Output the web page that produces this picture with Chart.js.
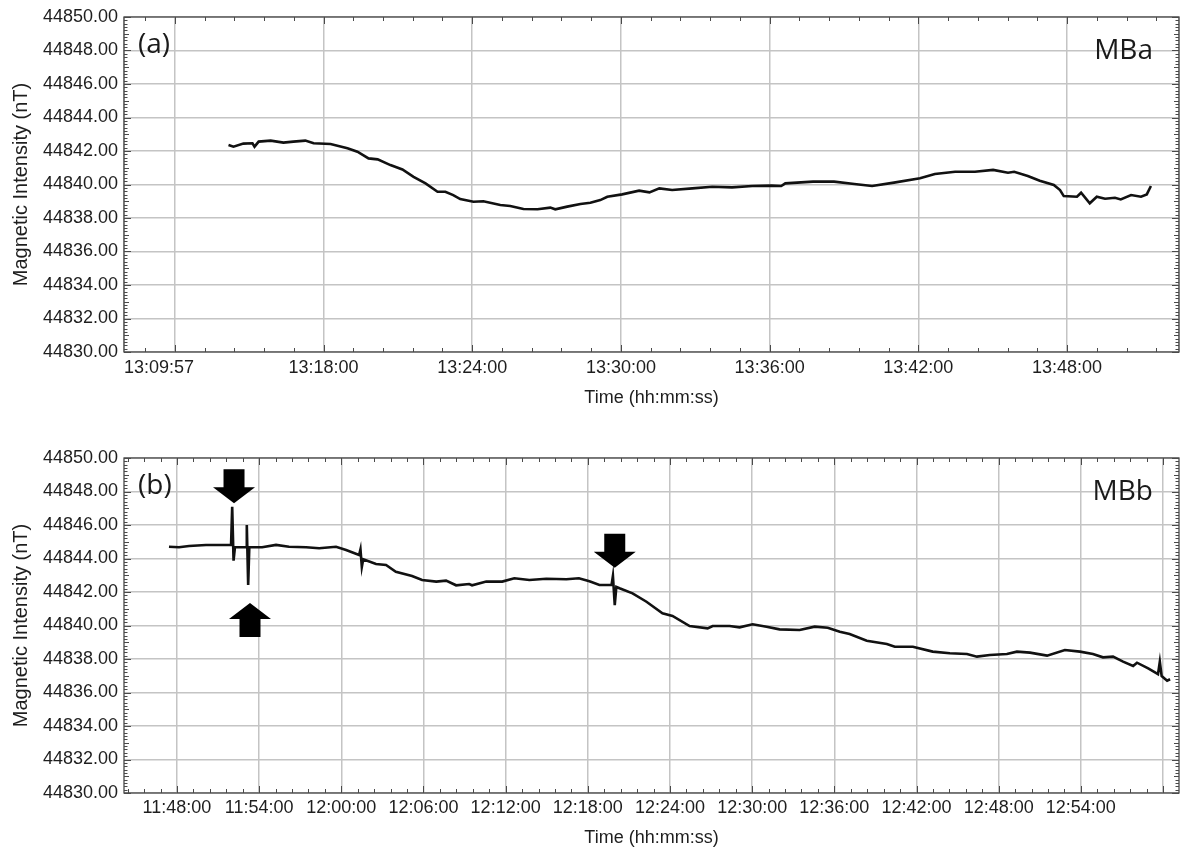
<!DOCTYPE html>
<html>
<head>
<meta charset="utf-8">
<script src="https://cdn.jsdelivr.net/npm/chart.js@4.4.1/dist/chart.umd.min.js"></script>
<style>
  body { margin: 0; background: #fff; }
  .panel { position: absolute; left: 0; width: 1185px; }
  #wrapA { top: 0; height: 425px; }
  #wrapB { top: 425px; height: 426px; }
</style>
</head>
<body>
<div class="panel" id="wrapA"><canvas id="chartA"></canvas></div>
<div class="panel" id="wrapB"><canvas id="chartB"></canvas></div>
<script>
// panel (a) - MBa
const timeA = ['13:14:10','13:14:22','13:14:46','13:15:08','13:15:13','13:15:23','13:15:52','13:16:23','13:16:47','13:17:16',
  '13:17:36','13:18:17','13:18:58','13:19:22','13:19:49','13:20:11','13:20:42','13:21:11','13:21:38','13:22:07',
  '13:22:36','13:22:55','13:23:14','13:23:31','13:24:03','13:24:27','13:25:08','13:25:32','13:26:04','13:26:38',
  '13:27:09','13:27:21','13:27:50','13:28:22','13:28:46','13:29:10','13:29:27','13:30:03','13:30:44','13:31:09',
  '13:31:33','13:32:04','13:32:53','13:33:41','13:34:29','13:35:18','13:36:04','13:36:28','13:36:38','13:37:45',
  '13:38:36','13:39:25','13:40:08','13:41:01','13:42:04','13:42:40','13:43:29','13:44:17','13:45:01','13:45:37',
  '13:45:52','13:46:25','13:46:54','13:47:28','13:47:43','13:47:52','13:48:24','13:48:34','13:48:55','13:49:12',
  '13:49:32','13:49:56','13:50:10','13:50:35','13:50:59','13:51:13','13:51:23'];
const valuesA = [44842.36,44842.26,44842.44,44842.46,44842.26,44842.56,44842.62,44842.50,44842.56,44842.62,
  44842.46,44842.42,44842.16,44841.96,44841.56,44841.50,44841.16,44840.90,44840.46,44840.07,
  44839.57,44839.57,44839.37,44839.13,44838.97,44839.00,44838.78,44838.72,44838.54,44838.52,
  44838.62,44838.52,44838.68,44838.84,44838.91,44839.07,44839.27,44839.41,44839.63,44839.53,
  44839.77,44839.67,44839.77,44839.87,44839.83,44839.91,44839.93,44839.91,44840.07,44840.17,
  44840.17,44840.03,44839.91,44840.11,44840.37,44840.63,44840.76,44840.76,44840.87,44840.70,
  44840.76,44840.51,44840.23,44839.97,44839.67,44839.31,44839.27,44839.51,44838.88,44839.27,
  44839.15,44839.21,44839.11,44839.37,44839.27,44839.41,44839.91];
const rangeA = ['13:09:57', '13:52:31'];
const ticksA = ['13:09:57','13:12:00','13:18:00','13:24:00','13:30:00','13:36:00','13:42:00','13:48:00','13:52:31'];
const tickLabelsA = ['13:09:57','','13:18:00','13:24:00','13:30:00','13:36:00','13:42:00','13:48:00',''];

// panel (b) - MBb
const timeB = ['11:47:25','11:48:09','11:48:53','11:50:07','11:51:04','11:51:57','11:52:02','11:52:08','11:52:14','11:53:03',
  '11:53:06','11:53:12','11:53:17','11:54:13','11:55:14','11:56:11','11:57:26','11:58:23','11:59:37','12:00:21',
  '12:01:18','12:01:24','12:01:30','12:01:36','12:02:32','12:03:16','12:03:59','12:05:10','12:05:54','12:06:56',
  '12:07:39','12:08:23','12:09:20','12:09:33','12:10:35','12:11:45','12:12:38','12:13:44','12:14:58','12:16:26',
  '12:17:21','12:18:07','12:18:51','12:19:44','12:19:50','12:19:58','12:20:05','12:20:19','12:21:16','12:22:17',
  '12:23:27','12:24:11','12:25:26','12:26:45','12:27:07','12:28:21','12:29:05','12:30:02','12:31:03','12:32:00',
  '12:33:28','12:34:34','12:35:31','12:36:24','12:37:07','12:38:22','12:39:50','12:40:25','12:41:44','12:43:11',
  '12:44:26','12:45:41','12:46:25','12:47:21','12:48:36','12:49:20','12:50:17','12:51:32','12:52:50','12:53:56',
  '12:54:53','12:55:37','12:56:21','12:57:05','12:57:49','12:58:06','12:58:55','12:59:38','12:59:46','12:59:54',
  '13:00:18','13:00:31'];
const valuesB = [44844.70,44844.67,44844.75,44844.81,44844.81,44844.81,44847.09,44843.87,44844.67,44844.67,
  44846.00,44842.42,44844.67,44844.67,44844.81,44844.70,44844.67,44844.61,44844.70,44844.51,
  44844.21,44844.55,44843.50,44843.95,44843.67,44843.61,44843.21,44842.96,44842.72,44842.62,
  44842.68,44842.40,44842.48,44842.40,44842.62,44842.62,44842.82,44842.72,44842.79,44842.76,
  44842.82,44842.64,44842.42,44842.42,44842.96,44841.22,44842.30,44842.22,44841.92,44841.42,
  44840.73,44840.57,44839.97,44839.83,44839.97,44839.97,44839.89,44840.07,44839.93,44839.77,
  44839.73,44839.93,44839.87,44839.63,44839.49,44839.09,44838.90,44838.73,44838.73,44838.44,
  44838.34,44838.30,44838.14,44838.24,44838.30,44838.44,44838.38,44838.20,44838.54,44838.44,
  44838.30,44838.10,44838.14,44837.84,44837.58,44837.78,44837.44,44837.10,44837.84,44836.98,
  44836.70,44836.79];
const rangeB = ['11:44:08', '13:01:10'];
const ticksB = ['11:48:00','11:54:00','12:00:00','12:06:00','12:12:00','12:18:00','12:24:00','12:30:00','12:36:00','12:42:00','12:48:00','12:54:00','13:00:00'];
const tickLabelsB = ['11:48:00','11:54:00','12:00:00','12:06:00','12:12:00','12:18:00','12:24:00','12:30:00','12:36:00','12:42:00','12:48:00','12:54:00',''];

// arrows marking the spikes in (b)
const arrowTimesB = ['11:52:10', '11:53:20', '12:19:58'];
const arrowValuesB = [44847.3, 44841.35, 44843.45];
const arrowDirsB = ['down', 'up', 'down'];

const yMin = 44830, yMax = 44850;

const sec = s => { const p = s.split(':').map(Number); return p[0] * 3600 + p[1] * 60 + p[2]; };

Chart.defaults.font.family = "'Liberation Sans', Arial, sans-serif";
Chart.defaults.color = '#1e1e1e';

function drawArrow(ctx, x, y, dir) {
  const s = dir === 'down' ? -1 : 1;
  ctx.beginPath();
  ctx.moveTo(x, y);
  ctx.lineTo(x - 21, y + s * 16);
  ctx.lineTo(x - 10.5, y + s * 16);
  ctx.lineTo(x - 10.5, y + s * 34);
  ctx.lineTo(x + 10.5, y + s * 34);
  ctx.lineTo(x + 10.5, y + s * 16);
  ctx.lineTo(x + 21, y + s * 16);
  ctx.closePath();
  ctx.fill();
}

// frame, inner minor ticks, arrows and panel labels
const framePlugin = {
  id: 'frame',
  afterDatasetsDraw(chart, args, o) {
    const { ctx, chartArea: { left, right, top, bottom } } = chart;
    const xs = chart.scales.x, ys = chart.scales.y;
    ctx.save();
    ctx.strokeStyle = '#4a4a4a';
    ctx.lineWidth = 1.3;
    ctx.strokeRect(left, top, right - left, bottom - top);

    ctx.lineWidth = 1;
    let v = o.origin;
    while (v - o.minorX >= xs.min) v -= o.minorX;
    for (; v <= xs.max; v += o.minorX) {
      const px = Math.round(xs.getPixelForValue(v)) + 0.5;
      const major = Math.abs((v - o.origin) % o.majorX) < 1e-6;
      const len = major ? 7 : 4;
      ctx.beginPath();
      ctx.moveTo(px, bottom); ctx.lineTo(px, bottom - len);
      ctx.moveTo(px, top); ctx.lineTo(px, top + len);
      ctx.stroke();
    }
    const n = Math.round((ys.max - ys.min) / 0.2);
    for (let i = 0; i <= n; i++) {
      const py = Math.round(ys.getPixelForValue(ys.min + i * 0.2)) + 0.5;
      const len = i % 10 === 0 ? 7 : (i % 5 === 0 ? 5 : 3.5);
      ctx.beginPath();
      ctx.moveTo(left, py); ctx.lineTo(left + len, py);
      ctx.moveTo(right, py); ctx.lineTo(right - len, py);
      ctx.stroke();
    }

    if (o.arrows) {
      ctx.fillStyle = '#000';
      o.arrows.times.forEach((t, i) => {
        drawArrow(ctx, xs.getPixelForValue(sec(t)), ys.getPixelForValue(o.arrows.values[i]), o.arrows.dirs[i]);
      });
    }

    ctx.fillStyle = '#1a1a1a';
    ctx.font = '28px "Open Sans", sans-serif';
    ctx.textBaseline = 'alphabetic';
    ctx.textAlign = 'left';
    ctx.fillText(o.panel, left + 14, top + 36);
    ctx.textAlign = 'right';
    ctx.fillText(o.station, right - 26, top + 42);
    ctx.restore();
  }
};

function makeChart(id, times, values, range, tickTimes, tickLabels, cfg) {
  const tickVals = tickTimes.map(sec);
  return new Chart(document.getElementById(id), {
    type: 'line',
    data: {
      datasets: [{
        data: times.map((t, i) => ({ x: sec(t), y: values[i] })),
        borderColor: '#111',
        borderWidth: 2.6,
        pointRadius: 0,
        tension: 0,
        fill: false
      }]
    },
    options: {
      responsive: true,
      maintainAspectRatio: false,
      animation: false,
      layout: { padding: { top: cfg.top, right: 6, left: 0, bottom: 0 } },
      plugins: {
        legend: { display: false },
        tooltip: { enabled: false },
        frame: cfg.frame
      },
      scales: {
        x: {
          type: 'linear',
          min: sec(range[0]),
          max: sec(range[1]),
          afterBuildTicks: s => { s.ticks = tickVals.map(v => ({ value: v })); },
          afterFit: s => { s.height = cfg.xHeight; },
          ticks: {
            autoSkip: false, maxRotation: 0, align: cfg.align, padding: cfg.tickPad,
            font: { size: 18 },
            callback: (v, i) => tickLabels[i]
          },
          grid: { color: '#c4c4c4', lineWidth: 1.5, drawTicks: false },
          border: { display: false },
          title: {
            display: true, text: 'Time (hh:mm:ss)', font: { size: 18 },
            padding: { top: 0, bottom: cfg.titlePad }
          }
        },
        y: {
          min: yMin,
          max: yMax,
          afterFit: s => { s.width = 124; },
          ticks: { stepSize: 2, padding: 6, font: { size: 18 }, callback: v => v.toFixed(2) },
          grid: { color: '#c4c4c4', lineWidth: 1.5, drawTicks: false },
          border: { display: false },
          title: {
            display: true, text: 'Magnetic Intensity (nT)', font: { size: 20 },
            padding: { top: 9, bottom: 0 }
          }
        }
      }
    },
    plugins: [framePlugin]
  });
}

makeChart('chartA', timeA, valuesA, rangeA, ticksA, tickLabelsA, {
  top: 17, xHeight: 73, tickPad: 5, titlePad: 16, align: 'inner',
  frame: { origin: sec('13:12:00'), minorX: 72, majorX: 360, panel: '(a)', station: 'MBa' }
});

makeChart('chartB', timeB, valuesB, rangeB, ticksB, tickLabelsB, {
  top: 33, xHeight: 58, tickPad: 4, titlePad: 2, align: 'center',
  frame: {
    origin: sec('11:48:00'), minorX: 72, majorX: 360, panel: '(b)', station: 'MBb',
    arrows: { times: arrowTimesB, values: arrowValuesB, dirs: arrowDirsB }
  }
});
</script>
</body>
</html>
